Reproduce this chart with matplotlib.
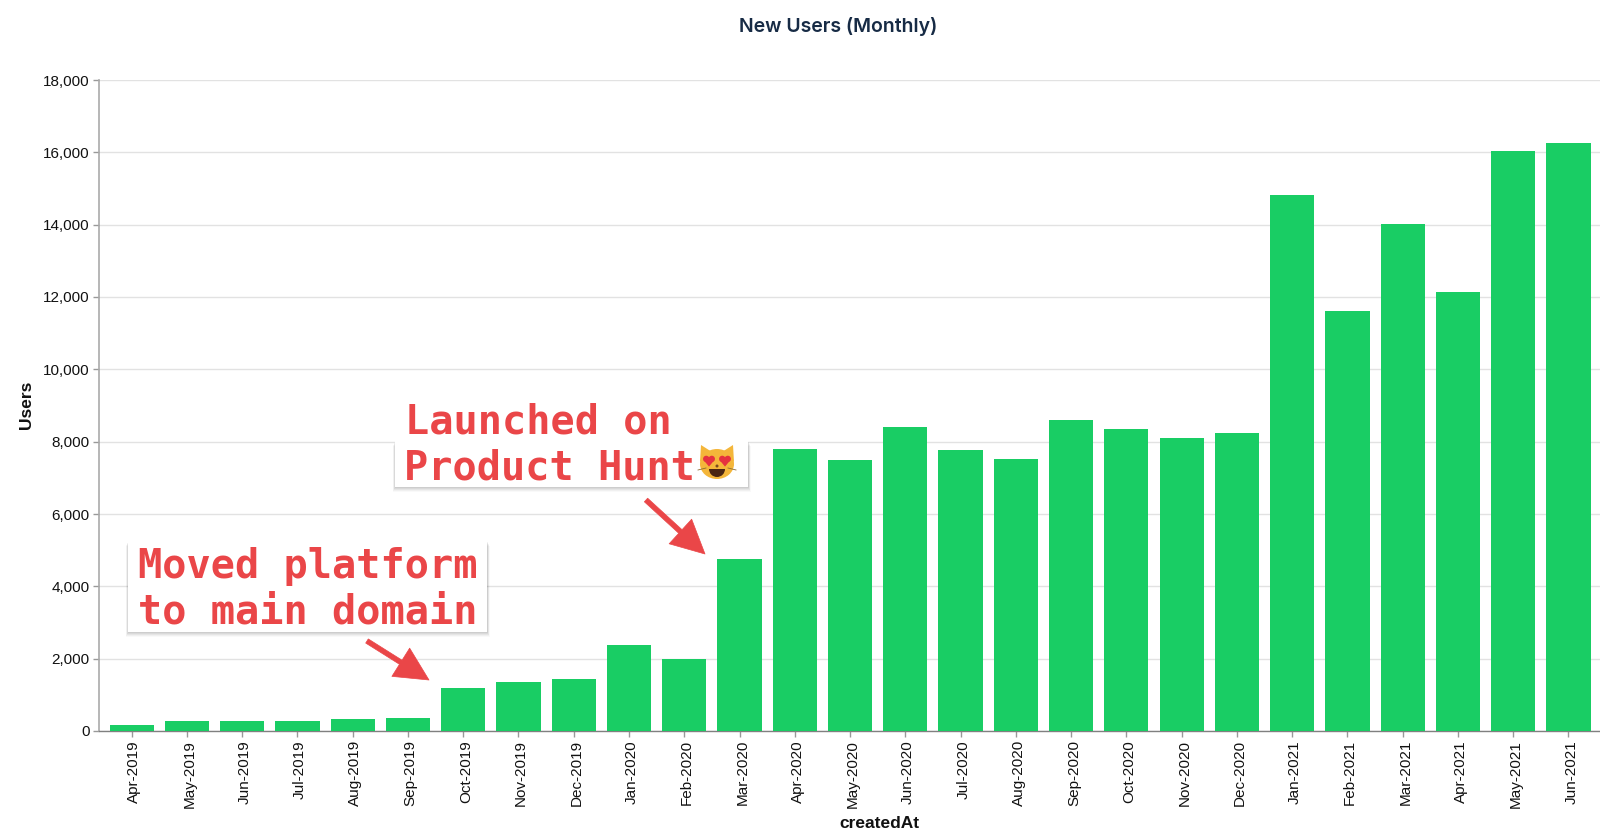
# plot.py
# New users per month, with two launch annotations

import matplotlib
matplotlib.use("Agg")
import matplotlib.pyplot as plt
from matplotlib.patches import Circle, Ellipse, FancyArrowPatch, Polygon, Rectangle, Wedge
from matplotlib.ticker import FuncFormatter
from matplotlib.transforms import ScaledTranslation

# ─── Data ──────────────────────────────────────────────────────────
MONTHS = [
    "Apr-2019", "May-2019", "Jun-2019", "Jul-2019", "Aug-2019", "Sep-2019",
    "Oct-2019", "Nov-2019", "Dec-2019", "Jan-2020", "Feb-2020", "Mar-2020",
    "Apr-2020", "May-2020", "Jun-2020", "Jul-2020", "Aug-2020", "Sep-2020",
    "Oct-2020", "Nov-2020", "Dec-2020", "Jan-2021", "Feb-2021", "Mar-2021",
    "Apr-2021", "May-2021", "Jun-2021",
]
USERS = [
    170, 280, 285, 285, 340, 370,
    1190, 1360, 1450, 2370, 1980, 4750,
    7800, 7490, 8400, 7770, 7510, 8600,
    8340, 8090, 8230, 14830, 11620, 14030,
    12130, 16030, 16270,
]
Y_TICKS = list(range(0, 18001, 2000))

GREEN = "#19cd64"
RED = "#ea4648"
W, H = 1600, 839

plt.rcParams["font.family"] = ["Liberation Sans", "DejaVu Sans"]
fig = plt.figure(figsize=(W / 100, H / 100), dpi=100, facecolor="white")

# ─── Bars ──────────────────────────────────────────────────────────
ax = fig.add_axes([99 / W, 1 - 731 / H, (W - 99) / W, 651 / H])
x = list(range(len(MONTHS)))
ax.bar(x, USERS, width=0.8, color=GREEN, zorder=3)
ax.set_xlim(-0.59, 26.57)
ax.set_ylim(0, 18000)

ax.set_yticks(Y_TICKS)
ax.yaxis.set_major_formatter(FuncFormatter(lambda v, _: f"{int(v):,}"))
ax.set_xticks(x)
ax.set_xticklabels(MONTHS, rotation=90)
ax.tick_params(axis="both", labelsize=11, color="#999999", width=1, labelcolor="#111111")
ax.tick_params(axis="x", length=4, pad=2.5)
ax.tick_params(axis="y", length=4.3, pad=2.5)
ax.grid(axis="y", color="#e2e2e2", linewidth=1, zorder=0)
ax.set_axisbelow(True)

# the descender space pushes rotated labels left of their ticks
empuje = ScaledTranslation(2 / 72, 0, fig.dpi_scale_trans)
for etiqueta in ax.get_xticklabels():
    etiqueta.set_transform(etiqueta.get_transform() + empuje)

for lado in ("top", "right"):
    ax.spines[lado].set_visible(False)
ax.spines["left"].set_color("#aaaaaa")
ax.spines["left"].set_linewidth(1.2)
ax.spines["bottom"].set_color("#808080")
ax.spines["bottom"].set_linewidth(1)

fig.text(838 / W, 1 - 26 / H, "New Users (Monthly)", ha="center", va="center",
         fontsize=14, fontweight="semibold", family="Inter", color="#172b45")
fig.text(879 / W, 1 - 824 / H, "createdAt", ha="center", va="center",
         fontsize=12.5, fontweight="bold", color="#111111")
fig.text(27 / W, 1 - 405 / H, "Users", ha="center", va="center", rotation=90,
         fontsize=12.5, fontweight="bold", color="#111111")

# ─── Annotation layer, in pixels from the top left ─────────────────
capa = fig.add_axes([0, 0, 1, 1], facecolor="none", zorder=5)
capa.set_xlim(0, W)
capa.set_ylim(H, 0)
capa.axis("off")


def caja(x0, y0, x1, y1):
    """Soft drop shadow under a label box."""
    for d, a in ((5, 0.025), (4, 0.035), (3, 0.045), (2, 0.05), (1, 0.05)):
        capa.add_patch(Rectangle((x0 - d / 2, y0 + d), x1 - x0 + d, y1 - y0,
                                 fc="black", ec="none", alpha=a, zorder=1))


def rotulo(x0, base, s):
    capa.text(x0, base, s, ha="left", va="baseline", family="DejaVu Sans Mono",
              fontweight="bold", fontsize=29, color=RED, zorder=3)


def flecha(inicio, fin):
    capa.add_patch(FancyArrowPatch(inicio, fin, arrowstyle="simple,head_length=24,head_width=24,tail_width=3.5",
                                   mutation_scale=1, shrinkA=0, shrinkB=0,
                                   fc=RED, ec=RED, lw=0.5, zorder=3))


def corazon(cx, cy, r):
    for dx in (-r * 0.5, r * 0.5):
        capa.add_patch(Circle((cx + dx, cy - r * 0.2), r * 0.58, fc="#e5323f", ec="none", zorder=6))
    capa.add_patch(Polygon([(cx - r * 1.0, cy), (cx + r * 1.0, cy), (cx, cy + r * 1.2)],
                           fc="#e5323f", ec="none", zorder=6))


def cara_gato(cx, cy):
    """Heart-eyed cat face next to the Product Hunt label."""
    amarillo = "#f4b63a"
    capa.add_patch(Polygon([(cx - 17, cy - 1), (cx - 16, cy - 18), (cx - 5, cy - 11)],
                           fc=amarillo, ec="none", zorder=4))
    capa.add_patch(Polygon([(cx + 17, cy - 1), (cx + 16, cy - 18), (cx + 5, cy - 11)],
                           fc=amarillo, ec="none", zorder=4))
    capa.add_patch(Ellipse((cx, cy + 1), 34, 30, fc=amarillo, ec="none", zorder=4))
    corazon(cx - 8, cy - 3, 5.5)
    corazon(cx + 8, cy - 3, 5.5)
    capa.add_patch(Wedge((cx, cy + 6), 8, 0, 180, fc="#4a2512", ec="none", zorder=6))
    capa.add_patch(Circle((cx, cy + 3), 1.5, fc="#7a4a20", ec="none", zorder=6))
    for s in (-1, 1):
        capa.plot([cx + s * 11, cx + s * 19], [cy + 5, cy + 7], color="#8a6a30", lw=0.6, zorder=6)


caja(128, 541, 487, 632)
capa.add_patch(Rectangle((128, 541), 359, 91, fc="white", ec="none", zorder=2))
rotulo(138, 578, "Moved platform")
rotulo(138, 624, "to main domain")
flecha((367, 641), (429, 680))

caja(395, 441, 748, 487)
capa.add_patch(Rectangle((395, 395), 285, 46, fc="white", ec="none", zorder=2))
capa.add_patch(Rectangle((395, 441), 353, 46, fc="white", ec="none", zorder=2))
rotulo(405, 433, "Launched on")
rotulo(404, 479, "Product Hunt")
cara_gato(717, 463)
flecha((646, 500), (705, 554))

fig.savefig("out.png", dpi=100, facecolor="white")
